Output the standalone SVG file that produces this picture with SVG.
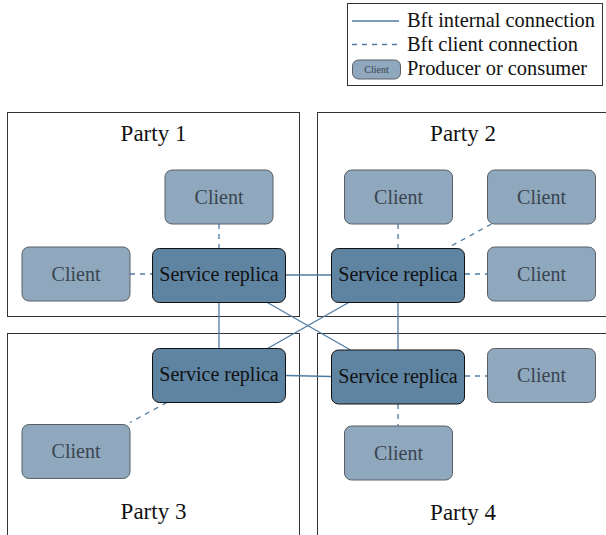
<svg xmlns="http://www.w3.org/2000/svg" width="606" height="535" viewBox="0 0 606 535" font-family="Liberation Serif, serif">
<style>
text{text-anchor:middle}
.party{fill:none;stroke:#333;stroke-width:1}
.ptxt{font-size:23px;fill:#111}
.client rect{fill:#8fa8bd;stroke:#5a5f66;stroke-width:1}
.client text{font-size:20px;fill:#3a444f}
.sr rect{fill:#5f84a2;stroke:#111;stroke-width:1}
.sr text{font-size:20px;fill:#111}
.solid{stroke:#4f7ba3;stroke-width:1.3;fill:none}
.dash{stroke:#4f7ba3;stroke-width:1.3;fill:none;stroke-dasharray:5 5}
.leg{font-size:20.4px;fill:#111;text-anchor:start}
</style>
<rect width="606" height="535" fill="#fff"/>
<g id="legend">
<rect x="347.5" y="3.5" width="255" height="82" fill="#fff" stroke="#333"/>
<line class="solid" x1="352" y1="21" x2="399" y2="21"/>
<line class="dash" x1="352" y1="44.5" x2="399" y2="44.5"/>
<rect x="352.5" y="60" width="48" height="19" rx="6" fill="#8fa8bd" stroke="#5a5f66"/>
<text x="376.5" y="73" style="font-size:10px;fill:#3a444f">Client</text>
<text class="leg" x="407" y="27">Bft internal connection</text>
<text class="leg" x="407" y="51">Bft client connection</text>
<text class="leg" x="407" y="75">Producer or consumer</text>
</g>
<g id="party1"><rect class="party" x="7.5" y="112.5" width="292" height="204"/><text class="ptxt" x="153.5" y="141">Party 1</text></g>
<g id="party2"><rect class="party" x="317.5" y="112.5" width="300" height="204"/><text class="ptxt" x="463" y="141">Party 2</text></g>
<g id="party3"><rect class="party" x="7.5" y="333.5" width="292" height="210"/><text class="ptxt" x="153.5" y="519">Party 3</text></g>
<g id="party4"><rect class="party" x="317.5" y="333.5" width="300" height="210"/><text class="ptxt" x="463" y="520">Party 4</text></g>
<g id="connectors">
<line class="solid" x1="286" y1="275" x2="331" y2="275"/>
<line class="solid" x1="219" y1="302" x2="219" y2="348"/>
<line class="solid" x1="398" y1="302" x2="398" y2="350"/>
<line class="solid" x1="286" y1="375.5" x2="331" y2="376.5"/>
<line class="solid" x1="266.5" y1="302" x2="350.5" y2="350"/>
<line class="solid" x1="349.5" y1="302" x2="267.5" y2="348.5"/>
<line class="dash" x1="219" y1="224" x2="219" y2="248"/>
<line class="dash" x1="130" y1="274" x2="152" y2="274"/>
<line class="dash" x1="398" y1="224" x2="398" y2="248"/>
<line class="dash" x1="491.5" y1="224" x2="447.5" y2="248"/>
<line class="dash" x1="465" y1="274" x2="487" y2="274"/>
<line class="dash" x1="167" y1="402.5" x2="130" y2="422.5"/>
<line class="dash" x1="465" y1="376" x2="487" y2="376"/>
<line class="dash" x1="398" y1="404" x2="398" y2="426"/>
</g>
<g id="p1client1" class="client"><rect x="165" y="170" width="108" height="54" rx="7"/><text x="219" y="204">Client</text></g>
<g id="p1client2" class="client"><rect x="22" y="247" width="108" height="54" rx="7"/><text x="76" y="281">Client</text></g>
<g id="p1replica" class="sr"><rect x="152.5" y="248.5" width="133" height="54" rx="7"/><text x="219" y="281">Service replica</text></g>
<g id="p2client1" class="client"><rect x="344.5" y="170" width="108" height="54" rx="7"/><text x="398.5" y="204">Client</text></g>
<g id="p2client2" class="client"><rect x="487.5" y="170" width="108" height="54" rx="7"/><text x="541.5" y="204">Client</text></g>
<g id="p2client3" class="client"><rect x="487.5" y="247" width="108" height="54" rx="7"/><text x="541.5" y="281">Client</text></g>
<g id="p2replica" class="sr"><rect x="331.5" y="248.5" width="133" height="54" rx="7"/><text x="398" y="281">Service replica</text></g>
<g id="p3replica" class="sr"><rect x="152.5" y="348.5" width="133" height="54" rx="7"/><text x="219" y="381">Service replica</text></g>
<g id="p3client" class="client"><rect x="22" y="424.5" width="108" height="54" rx="7"/><text x="76" y="458">Client</text></g>
<g id="p4replica" class="sr"><rect x="331.5" y="350" width="133" height="54" rx="7"/><text x="398" y="383">Service replica</text></g>
<g id="p4client1" class="client"><rect x="487.5" y="348.5" width="108" height="54" rx="7"/><text x="541.5" y="382">Client</text></g>
<g id="p4client2" class="client"><rect x="344.5" y="426" width="108" height="54" rx="7"/><text x="398.5" y="460">Client</text></g>
</svg>
